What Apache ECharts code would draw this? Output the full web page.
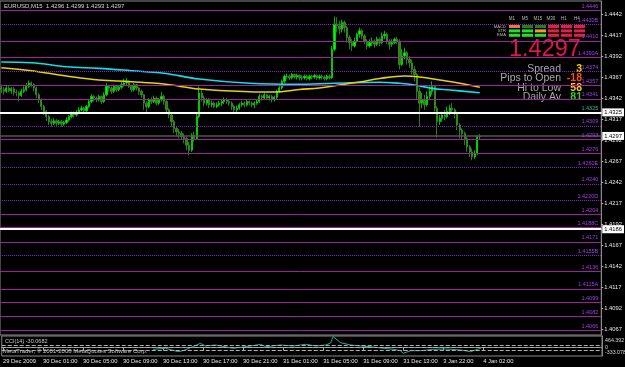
<!DOCTYPE html>
<html><head><meta charset="utf-8">
<script src="https://cdn.jsdelivr.net/npm/echarts@6/dist/echarts.min.js"></script>
<style>html,body{margin:0;padding:0;background:#000;}#c{width:625px;height:367px;}</style>
</head><body><div id="c"></div>
<script>
// ---------------- data ----------------
const titleText = 'EURUSD,M15  1.4296 1.4299 1.4293 1.4297';
const timeLabels = ['29 Dec 2009','30 Dec 01:00','30 Dec 05:00','30 Dec 09:00','30 Dec 13:00','30 Dec 17:00','30 Dec 21:00','31 Dec 01:00','31 Dec 05:00','31 Dec 09:00','31 Dec 13:00','3 Jan 22:00','4 Jan 02:00'];
const barOpen = [1.4354,1.4352,1.4350,1.4354,1.4351,1.4353,1.4349,1.4348,1.4345,1.4350,
1.4352,1.4356,1.4360,1.4358,1.4354,1.4346,1.4340,1.4332,1.4326,1.4320,
1.4314,1.4312,1.4315,1.4312,1.4314,1.4311,1.4313,1.4316,1.4320,1.4324,
1.4322,1.4325,1.4328,1.4330,1.4327,1.4332,1.4338,1.4344,1.4342,1.4340,
1.4344,1.4338,1.4346,1.4356,1.4354,1.4350,1.4356,1.4352,1.4355,1.4358,
1.4360,1.4362,1.4356,1.4352,1.4358,1.4354,1.4350,1.4346,1.4336,1.4332,
1.4340,1.4338,1.4342,1.4336,1.4340,1.4344,1.4338,1.4328,1.4322,1.4314,
1.4306,1.4302,1.4300,1.4296,1.4294,1.4286,1.4280,1.4298,1.4294,1.4320,
1.4348,1.4342,1.4336,1.4340,1.4334,1.4336,1.4332,1.4334,1.4336,1.4338,
1.4340,1.4338,1.4336,1.4332,1.4328,1.4330,1.4334,1.4336,1.4334,1.4338,
1.4336,1.4334,1.4336,1.4338,1.4344,1.4342,1.4346,1.4342,1.4344,1.4340,
1.4343,1.4350,1.4354,1.4362,1.4368,1.4368,1.4366,1.4370,1.4367,1.4369,
1.4366,1.4366,1.4368,1.4365,1.4368,1.4367,1.4369,1.4366,1.4368,1.4367,
1.4365,1.4368,1.4366,1.4400,1.4430,1.4428,1.4424,1.4432,1.4426,1.4414,
1.4408,1.4404,1.4410,1.4418,1.4422,1.4416,1.4410,1.4404,1.4408,1.4410,
1.4406,1.4412,1.4408,1.4416,1.4418,1.4410,1.4406,1.4408,1.4412,1.4410,
1.4382,1.4392,1.4396,1.4388,1.4384,1.4376,1.4370,1.4350,1.4336,1.4340,
1.4334,1.4344,1.4350,1.4356,1.4330,1.4314,1.4318,1.4322,1.4320,1.4326,
1.4330,1.4328,1.4324,1.4310,1.4304,1.4300,1.4294,1.4284,1.4278,1.4272,1.4276,1.4296];
const barClose = [1.4352,1.4350,1.4354,1.4351,1.4353,1.4349,1.4348,1.4345,1.4350,1.4352,
1.4356,1.4360,1.4358,1.4354,1.4346,1.4340,1.4332,1.4326,1.4320,1.4314,
1.4312,1.4315,1.4312,1.4314,1.4311,1.4313,1.4316,1.4320,1.4324,1.4322,
1.4325,1.4328,1.4330,1.4327,1.4332,1.4338,1.4344,1.4342,1.4340,1.4344,
1.4338,1.4346,1.4356,1.4354,1.4350,1.4356,1.4352,1.4355,1.4358,1.4360,
1.4362,1.4356,1.4352,1.4358,1.4354,1.4350,1.4346,1.4336,1.4332,1.4340,
1.4338,1.4342,1.4336,1.4340,1.4344,1.4338,1.4328,1.4322,1.4314,1.4306,
1.4302,1.4300,1.4296,1.4294,1.4286,1.4280,1.4298,1.4294,1.4320,1.4348,
1.4342,1.4336,1.4340,1.4334,1.4336,1.4332,1.4334,1.4336,1.4338,1.4340,
1.4338,1.4336,1.4332,1.4328,1.4330,1.4334,1.4336,1.4334,1.4338,1.4336,
1.4334,1.4336,1.4338,1.4344,1.4342,1.4346,1.4342,1.4344,1.4340,1.4343,
1.4350,1.4354,1.4362,1.4368,1.4368,1.4366,1.4370,1.4367,1.4369,1.4366,
1.4366,1.4368,1.4365,1.4368,1.4367,1.4369,1.4366,1.4368,1.4367,1.4365,
1.4368,1.4366,1.4400,1.4430,1.4428,1.4424,1.4432,1.4426,1.4414,1.4408,
1.4404,1.4410,1.4418,1.4422,1.4416,1.4410,1.4404,1.4408,1.4410,1.4406,
1.4412,1.4408,1.4416,1.4418,1.4410,1.4406,1.4408,1.4412,1.4410,1.4382,
1.4392,1.4396,1.4388,1.4384,1.4376,1.4370,1.4350,1.4336,1.4340,1.4334,
1.4344,1.4350,1.4356,1.4330,1.4314,1.4318,1.4322,1.4320,1.4326,1.4330,
1.4328,1.4324,1.4310,1.4304,1.4300,1.4294,1.4284,1.4278,1.4272,1.4276,1.4296,1.4297];
const barLow = [1.4348,1.4346,1.4348,1.4349,1.4347,1.4345,1.4344,1.4338,1.4343,1.4348,
1.4350,1.4354,1.4355,1.4350,1.4342,1.4336,1.4328,1.4322,1.4315,1.4310,
1.4308,1.4310,1.4309,1.4310,1.4308,1.4309,1.4311,1.4314,1.4318,1.4319,
1.4320,1.4323,1.4326,1.4324,1.4325,1.4330,1.4336,1.4338,1.4337,1.4338,
1.4335,1.4336,1.4344,1.4350,1.4347,1.4348,1.4349,1.4350,1.4353,1.4356,
1.4357,1.4354,1.4349,1.4350,1.4351,1.4346,1.4342,1.4328,1.4324,1.4330,
1.4335,1.4336,1.4333,1.4334,1.4338,1.4334,1.4324,1.4318,1.4308,1.4300,
1.4296,1.4294,1.4292,1.4288,1.4280,1.4274,1.4278,1.4290,1.4292,1.4318,
1.4338,1.4332,1.4333,1.4330,1.4331,1.4330,1.4330,1.4332,1.4333,1.4335,
1.4335,1.4333,1.4328,1.4324,1.4325,1.4328,1.4332,1.4331,1.4332,1.4333,
1.4331,1.4330,1.4334,1.4336,1.4339,1.4340,1.4340,1.4339,1.4337,1.4338,
1.4341,1.4348,1.4352,1.4360,1.4365,1.4363,1.4364,1.4365,1.4364,1.4363,
1.4363,1.4364,1.4363,1.4363,1.4364,1.4365,1.4364,1.4364,1.4364,1.4363,
1.4363,1.4364,1.4365,1.4398,1.4420,1.4418,1.4420,1.4420,1.4408,1.4400,
1.4398,1.4402,1.4408,1.4414,1.4412,1.4406,1.4400,1.4402,1.4404,1.4402,
1.4404,1.4404,1.4406,1.4412,1.4406,1.4400,1.4403,1.4406,1.4406,1.4376,
1.4380,1.4388,1.4382,1.4378,1.4370,1.4362,1.4340,1.4308,1.4330,1.4328,
1.4332,1.4340,1.4346,1.4326,1.4295,1.4310,1.4314,1.4316,1.4318,1.4322,
1.4324,1.4318,1.4304,1.4294,1.4292,1.4286,1.4278,1.4272,1.4268,1.4270,1.4274,1.4293];
const barHigh = [1.4358,1.4355,1.4357,1.4356,1.4355,1.4355,1.4352,1.4350,1.4353,1.4356,
1.4360,1.4363,1.4362,1.4360,1.4356,1.4348,1.4342,1.4334,1.4328,1.4322,
1.4317,1.4318,1.4317,1.4316,1.4316,1.4315,1.4319,1.4322,1.4326,1.4326,
1.4328,1.4331,1.4333,1.4332,1.4334,1.4341,1.4347,1.4346,1.4344,1.4346,
1.4345,1.4349,1.4360,1.4358,1.4356,1.4358,1.4357,1.4357,1.4361,1.4365,
1.4366,1.4363,1.4358,1.4360,1.4359,1.4355,1.4352,1.4347,1.4338,1.4342,
1.4343,1.4345,1.4344,1.4342,1.4349,1.4346,1.4340,1.4330,1.4324,1.4316,
1.4309,1.4305,1.4303,1.4300,1.4296,1.4290,1.4300,1.4302,1.4324,1.4356,
1.4352,1.4345,1.4342,1.4342,1.4339,1.4338,1.4337,1.4339,1.4341,1.4343,
1.4342,1.4340,1.4338,1.4334,1.4333,1.4336,1.4339,1.4338,1.4340,1.4339,
1.4338,1.4338,1.4341,1.4347,1.4346,1.4348,1.4347,1.4346,1.4346,1.4345,
1.4352,1.4357,1.4364,1.4370,1.4371,1.4370,1.4372,1.4371,1.4371,1.4370,
1.4369,1.4370,1.4370,1.4370,1.4370,1.4371,1.4370,1.4370,1.4370,1.4369,
1.4370,1.4370,1.4404,1.4439,1.4438,1.4434,1.4435,1.4434,1.4428,1.4417,
1.4412,1.4414,1.4420,1.4426,1.4424,1.4418,1.4412,1.4412,1.4414,1.4412,
1.4415,1.4414,1.4420,1.4422,1.4420,1.4412,1.4412,1.4414,1.4415,1.4412,
1.4400,1.4402,1.4398,1.4392,1.4388,1.4380,1.4372,1.4354,1.4348,1.4346,
1.4350,1.4356,1.4362,1.4358,1.4332,1.4322,1.4326,1.4328,1.4332,1.4334,
1.4336,1.4330,1.4326,1.4312,1.4306,1.4302,1.4296,1.4286,1.4282,1.4280,1.4298,1.4299];

// moving averages (bar index, value)
const maCyanIdx = [0,12,26,39,52,65,79,99,119,139,151,159,165,172,179,191];
const maCyanVal = [1.43849,1.43841,1.43793,1.43774,1.43746,1.43715,1.43647,1.43596,1.43584,1.43603,1.43608,1.43596,1.43576,1.43536,1.43516,1.43484];
const maYellowIdx = [0,12,26,39,52,65,79,99,109,119,127,135,143,151,161,167,175,183,191];
const maYellowVal = [1.43781,1.43746,1.43683,1.43635,1.43615,1.43587,1.43528,1.43496,1.43492,1.43522,1.43540,1.43576,1.43611,1.43653,1.43683,1.43671,1.43635,1.43596,1.43548];

// CCI(14)
const cciIdx = [60,65,70,72,79,81,85,92,99,103,105,111,116,119,121,125,129,131,132,135,139,143,147,152,156,159,160,163,167,172,177,183,187,190,191];
const cciVal = [-66,-26,-161,-122,173,66,106,-26,66,133,38,106,66,106,133,66,106,185,440,197,106,66,38,-26,-66,-122,-225,-122,-122,-66,-54,-94,-161,-54,-30.0682];
const cciLevels = [100, 0, -100];
const cciRange = [-333.078, 464.392];
const cciLabel = 'CCI(14) -30.0682';

// price scale ticks
const priceTicks = [1.4442,1.4417,1.4392,1.4367,1.4342,1.4317,1.4292,1.4267,1.4242,1.4217,1.4192,1.4167,1.4142,1.4117,1.4092,1.4067];

// horizontal levels
const levelValues = [1.4446,1.4430,1.4410,1.4390,1.4374,1.4357,1.4341,1.4325,1.4309,1.4293,1.4276,1.4260,1.4240,1.4220,1.4204,1.4188,1.4171,1.4155,1.4136,1.4115,1.4099,1.4082,1.4066];
const levelTags   = ['','B','','A','','','','','','','','E','','D','','C','','B','','A','','',''];
const keyLevels = [1.4325, 1.4186];   // white lines
const currentPrice = 1.4297;

// dashboard
const dashTimeframes = ['M1','M5','M15','M30','H1','H4'];
const dashRows = ['MACD','STR','EMA'];
const dashSignals = [
  ['downWeak','upWeak','upWeak','down','down','down'],
  ['up','up','flat','down','down','down'],
  ['up','up','up','down','down','down']
];
const statNames = ['Spread','Pips to Open','Hi to Low','Daily Av'];
const statValues = ['3','-18','58','81'];
const copyright = 'MetaTrader, \u00a9 2001-2008 MetaQuotes Software Corp.';

// ---------------- styles / build ----------------
const FONT = 'Liberation Sans, Arial, sans-serif';
const TOTAL_SLOTS = 240, PER_LABEL = 16;
const categories = Array.from({length: TOTAL_SLOTS}, (_, i) => String(i));
const candleData = barOpen.map((o, i) => [o, barClose[i], barLow[i], barHigh[i]]);
const pairs = (a, b) => a.map((x, i) => [x, b[i]]);
const labelInterval = (i) => i % PER_LABEL === 0 && i / PER_LABEL < timeLabels.length;
const dottedSet = [1.4430, 1.4374, 1.4309, 1.4260, 1.4240, 1.4220, 1.4155];

const levelItems = [];
levelValues.forEach((v, i) => {
  const white = keyLevels.includes(v);
  const dotted = dottedSet.includes(v);
  levelItems.push({
    yAxis: v,
    lineStyle: {color: white ? '#ffffff' : (dotted ? '#8a1ec8' : '#a0209f'), width: white ? 2 : 1, type: dotted ? 'dotted' : 'solid'},
    label: {show: true, position: 'insideEndTop', formatter: v.toFixed(4) + levelTags[i], color: white ? '#2fb89a' : '#a040e8', fontSize: 5.5, fontFamily: FONT, distance: [3, 1]}
  });
});
keyLevels.forEach(v => {
  levelItems.push({
    yAxis: v,
    lineStyle: {color: '#ffffff', width: 2, type: 'solid'},
    label: {show: true, position: 'end', formatter: v.toFixed(4), color: '#000', backgroundColor: '#fff', padding: [1, 2], fontSize: 5.8, fontFamily: FONT, distance: 1}
  });
});
levelItems.push({
  yAxis: currentPrice,
  lineStyle: {color: '#555555', width: 1.5, type: 'solid'},
  label: {show: true, position: 'end', formatter: currentPrice.toFixed(4), color: '#000', backgroundColor: '#fff', padding: [1, 2], fontSize: 5.8, fontFamily: FONT, distance: 1}
});

const signalColor = {up: '#22e022', upWeak: '#2a7a2a', flat: '#f0a020', down: '#e0204a', downWeak: '#ff6a50'};
const graphics = [];
graphics.push({type: 'text', left: 4, top: 3, style: {text: titleText, fill: '#d8d8d8', fontSize: 6, fontFamily: FONT}});
dashTimeframes.forEach((t, c) => {
  graphics.push({type: 'text', x: 512 + 13 * c, y: 19, style: {text: t, fill: '#b8b8b8', fontSize: 4.5, fontFamily: FONT, align: 'center', verticalAlign: 'middle'}});
});
dashRows.forEach((r, k) => {
  const y = 25 + k * 4.4;
  graphics.push({type: 'text', x: 506, y: y + 1.5, style: {text: r, fill: '#b8b8b8', fontSize: 4.2, fontFamily: FONT, align: 'right', verticalAlign: 'middle'}});
  dashSignals[k].forEach((s, c) => {
    graphics.push({type: 'rect', shape: {x: 509 + 13 * c, y: y, width: 11, height: 3}, style: {fill: signalColor[s]}});
  });
});
graphics.push({type: 'text', x: 509, y: 49.5, style: {text: currentPrice.toFixed(4), fill: '#e0174a', fontSize: 23.5, fontFamily: FONT, align: 'left', verticalAlign: 'middle'}});
const statColors = ['#ffd700', '#ff4a1a', '#ffc020', '#33cc33'];
statNames.forEach((n, k) => {
  const y = 69 + k * 9.5;
  graphics.push({type: 'text', x: 561, y: y, style: {text: n, fill: '#a8a8a8', fontSize: 10.5, fontFamily: FONT, align: 'right', verticalAlign: 'middle'}});
  graphics.push({type: 'text', x: 582, y: y, style: {text: statValues[k], fill: statColors[k], fontSize: 10.5, fontWeight: 'bold', fontFamily: FONT, align: 'right', verticalAlign: 'middle'}});
});
graphics.push({type: 'text', left: 5, top: 338, style: {text: cciLabel, fill: '#c8c8c8', fontSize: 5.5, fontFamily: FONT}});
graphics.push({type: 'text', left: 3, top: 348, style: {text: copyright, fill: '#c8c8c8', fontSize: 6, fontFamily: FONT}});
// CCI scale extremes are printed inside the small sub-window, as the terminal does
graphics.push({type: 'text', x: 605, y: 340.5, style: {text: String(cciRange[1]), fill: '#d8d8d8', fontSize: 5.3, fontFamily: FONT, align: 'left', verticalAlign: 'middle'}});
graphics.push({type: 'text', x: 605, y: 352.3, style: {text: String(cciRange[0]), fill: '#d8d8d8', fontSize: 5.3, fontFamily: FONT, align: 'left', verticalAlign: 'middle'}});

const chart = echarts.init(document.getElementById('c'), null, {renderer: 'canvas'});
chart.setOption({
  animation: false,
  backgroundColor: '#000000',
  grid: [
    {left: 0, right: 23, top: 1, height: 334, show: true, borderColor: '#8a8a8a', borderWidth: 1, backgroundColor: 'transparent'},
    {left: 0, right: 23, top: 336, height: 20, show: true, borderColor: '#8a8a8a', borderWidth: 1, backgroundColor: 'transparent'}
  ],
  xAxis: [
    {type: 'category', gridIndex: 0, data: categories, boundaryGap: true, axisLine: {show: false}, axisTick: {show: false}, axisLabel: {show: false}, splitLine: {show: false}},
    {type: 'category', gridIndex: 1, data: categories, boundaryGap: true,
     axisLine: {show: true, lineStyle: {color: '#8a8a8a'}},
     axisTick: {show: true, alignWithLabel: true, interval: labelInterval, length: 3, lineStyle: {color: '#b0b0b0'}},
     axisLabel: {show: true, interval: labelInterval, align: 'left', margin: 2, color: '#e8e8e8', fontSize: 5.8, fontFamily: FONT,
       formatter: (v, i) => timeLabels[i / PER_LABEL] || ''},
     splitLine: {show: false}}
  ],
  yAxis: [
    {type: 'value', gridIndex: 0, position: 'right', min: 1.40602, max: 1.44575, scale: true,
     axisLine: {show: true, lineStyle: {color: '#8a8a8a'}},
     axisTick: {show: true, customValues: priceTicks, length: 2, lineStyle: {color: '#b0b0b0'}},
     axisLabel: {show: true, customValues: priceTicks, margin: 3, color: '#e8e8e8', fontSize: 5.8, fontFamily: FONT, formatter: v => v.toFixed(4)},
     splitLine: {show: false}},
    {type: 'value', gridIndex: 1, position: 'right', min: cciRange[0], max: cciRange[1],
     axisLine: {show: true, lineStyle: {color: '#8a8a8a'}},
     axisTick: {show: false},
     axisLabel: {show: true, customValues: cciLevels, margin: 3, color: '#d8d8d8', fontSize: 5.3, fontFamily: FONT, formatter: v => String(v)},
     splitLine: {show: false}}
  ],
  series: [
    {type: 'line', name: 'levels', xAxisIndex: 0, yAxisIndex: 0, data: [], z: 1, silent: true,
     markLine: {silent: true, precision: 5, symbol: ['none', 'none'], animation: false, data: levelItems}},
    {type: 'candlestick', name: 'EURUSD', xAxisIndex: 0, yAxisIndex: 0, data: candleData, z: 3, barWidth: 1.8,
     itemStyle: {color: '#00ff00', color0: '#4f6f18', borderColor: '#00e000', borderColor0: '#2f9f1f', borderWidth: 0.8}},
    {type: 'line', name: 'MA slow', xAxisIndex: 0, yAxisIndex: 0, data: pairs(maCyanIdx, maCyanVal), smooth: 0.4, showSymbol: false, z: 4,
     lineStyle: {color: '#10e0ec', width: 1.6}},
    {type: 'line', name: 'MA fast', xAxisIndex: 0, yAxisIndex: 0, data: pairs(maYellowIdx, maYellowVal), smooth: 0.4, showSymbol: false, z: 4,
     lineStyle: {color: '#e8d20a', width: 1.6}},
    {type: 'line', name: 'CCI', xAxisIndex: 1, yAxisIndex: 1, data: pairs(cciIdx, cciVal), showSymbol: false, z: 3,
     lineStyle: {color: '#1fae9a', width: 1},
     markLine: {silent: true, precision: 2, symbol: ['none', 'none'], label: {show: false},
       lineStyle: {color: '#b0b0b0', type: 'dashed', width: 1}, data: cciLevels.map(v => ({yAxis: v}))}}
  ],
  graphic: graphics
});
</script>
</body></html>
